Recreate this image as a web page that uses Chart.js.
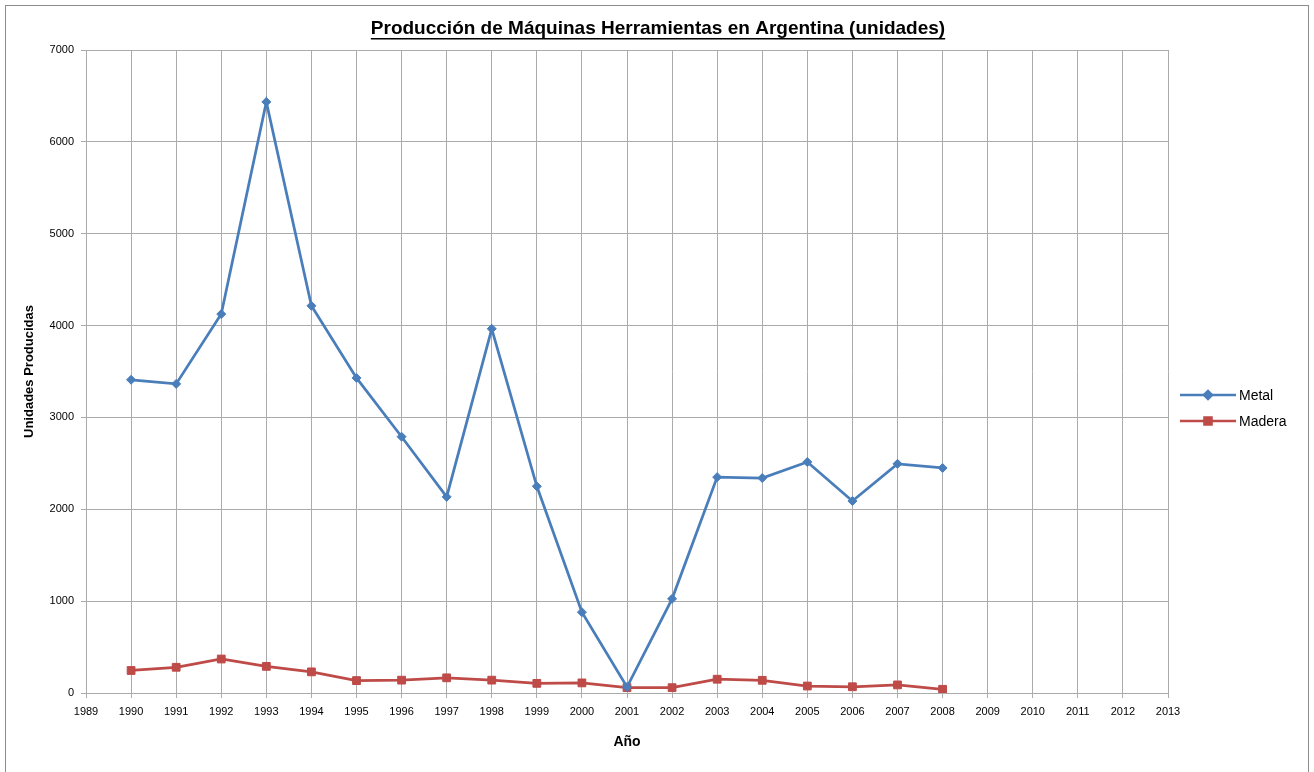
<!DOCTYPE html>
<html>
<head>
<meta charset="utf-8">
<script src="https://cdn.jsdelivr.net/npm/chart.js@4/dist/chart.umd.min.js"></script>
<style>
  html, body { margin: 0; padding: 0; background: #fff; }
  #wrap { width: 1314px; height: 772px; position: relative; }
</style>
</head>
<body>
<div id="wrap"><canvas id="chart"></canvas></div>
<script>
const years = [1990, 1991, 1992, 1993, 1994, 1995, 1996, 1997, 1998, 1999,
               2000, 2001, 2002, 2003, 2004, 2005, 2006, 2007, 2008];
const metal = [3410, 3365, 4125, 6435, 4215, 3430, 2790, 2135, 3965, 2250,
               880, 65, 1025, 2350, 2340, 2515, 2090, 2495, 2450];
const madera = [245, 280, 370, 290, 230, 135, 140, 165, 140, 105,
                110, 58, 58, 150, 138, 76, 68, 88, 40];
const xMin = 1989, xMax = 2013;
const yMin = 0, yMax = 7000, yStep = 1000;
const chartTitle = "Producción de Máquinas Herramientas en Argentina (unidades)";

const FONT = "'Liberation Sans', Arial, sans-serif";
const seriesColors = { metal: "#4A7EBB", madera: "#BE4B48" };

// frame, underlined title and an Excel style legend
const decorations = {
    id: "decorations",
    beforeDraw(chart) {
        const ctx = chart.ctx;
        ctx.save();
        ctx.strokeStyle = "#8c8c8c";
        ctx.lineWidth = 1;
        ctx.strokeRect(5.5, 5.5, 1303, 800);
        ctx.restore();
    },
    afterDraw(chart) {
        const ctx = chart.ctx;
        ctx.save();

        ctx.font = "bold 19px " + FONT;
        ctx.fillStyle = "#000";
        ctx.textAlign = "center";
        ctx.textBaseline = "middle";
        const cx = 658;
        ctx.fillText(chartTitle, cx, 29);
        const w = ctx.measureText(chartTitle).width;
        ctx.fillRect(cx - w / 2, 38, w, 1.5);

        const items = [
            { label: "Metal", color: seriesColors.metal, style: "rectRot", r: 4 },
            { label: "Madera", color: seriesColors.madera, style: "rect", r: 5 }
        ];
        ctx.textAlign = "left";
        items.forEach((it, i) => {
            const y = 395 + i * 26;
            ctx.strokeStyle = it.color;
            ctx.lineWidth = 2.5;
            ctx.beginPath();
            ctx.moveTo(1180, y);
            ctx.lineTo(1236, y);
            ctx.stroke();
            ctx.fillStyle = it.color;
            Chart.helpers.drawPoint(ctx, { pointStyle: it.style, radius: it.r, borderWidth: 1 }, 1208, y);
            ctx.fill();
            ctx.fillStyle = "#000";
            ctx.font = "14px " + FONT;
            ctx.fillText(it.label, 1239, y + 1);
        });
        ctx.restore();
    }
};

function toPoints(values) {
    return years.map((yr, i) => ({ x: yr, y: values[i] }));
}

const ctx = document.getElementById("chart").getContext("2d");
new Chart(ctx, {
    type: "line",
    data: {
        datasets: [{
            label: "Metal",
            data: toPoints(metal),
            borderColor: seriesColors.metal,
            backgroundColor: seriesColors.metal,
            borderWidth: 2.75,
            pointStyle: "rectRot",
            pointRadius: 4.5,
            pointBorderWidth: 1,
            tension: 0
        }, {
            label: "Madera",
            data: toPoints(madera),
            borderColor: seriesColors.madera,
            backgroundColor: seriesColors.madera,
            borderWidth: 2.75,
            pointStyle: "rect",
            pointRadius: 5.5,
            pointBorderWidth: 1,
            tension: 0
        }]
    },
    options: {
        responsive: true,
        maintainAspectRatio: false,
        animation: false,
        layout: { padding: { left: 0, right: 146, top: 50, bottom: 0 } },
        plugins: {
            legend: { display: false },
            tooltip: { enabled: false },
            title: { display: false }
        },
        scales: {
            x: {
                type: "linear",
                min: xMin,
                max: xMax,
                afterFit(scale) { scale.height = 79; },
                ticks: {
                    stepSize: 1,
                    color: "#000",
                    font: { family: FONT, size: 11 },
                    padding: 7,
                    maxRotation: 0,
                    autoSkip: false,
                    callback: (v) => String(v)
                },
                grid: { color: "#ababab", lineWidth: 1, tickLength: 5 },
                border: { color: "#ababab" },
                title: {
                    display: true,
                    text: "Año",
                    color: "#000",
                    font: { family: FONT, size: 14, weight: "bold" },
                    padding: { top: 0, bottom: 21 }
                }
            },
            y: {
                min: yMin,
                max: yMax,
                afterFit(scale) { scale.width = 86; },
                ticks: {
                    stepSize: yStep,
                    color: "#000",
                    font: { family: FONT, size: 11 },
                    padding: 7,
                    callback: (v) => String(v)
                },
                grid: { color: "#ababab", lineWidth: 1, tickLength: 5 },
                border: { color: "#ababab" },
                title: {
                    display: true,
                    text: "Unidades Producidas",
                    color: "#000",
                    font: { family: FONT, size: 13, weight: "bold" },
                    padding: { top: 22, bottom: 0 }
                }
            }
        }
    },
    plugins: [decorations]
});
</script>
</body>
</html>
